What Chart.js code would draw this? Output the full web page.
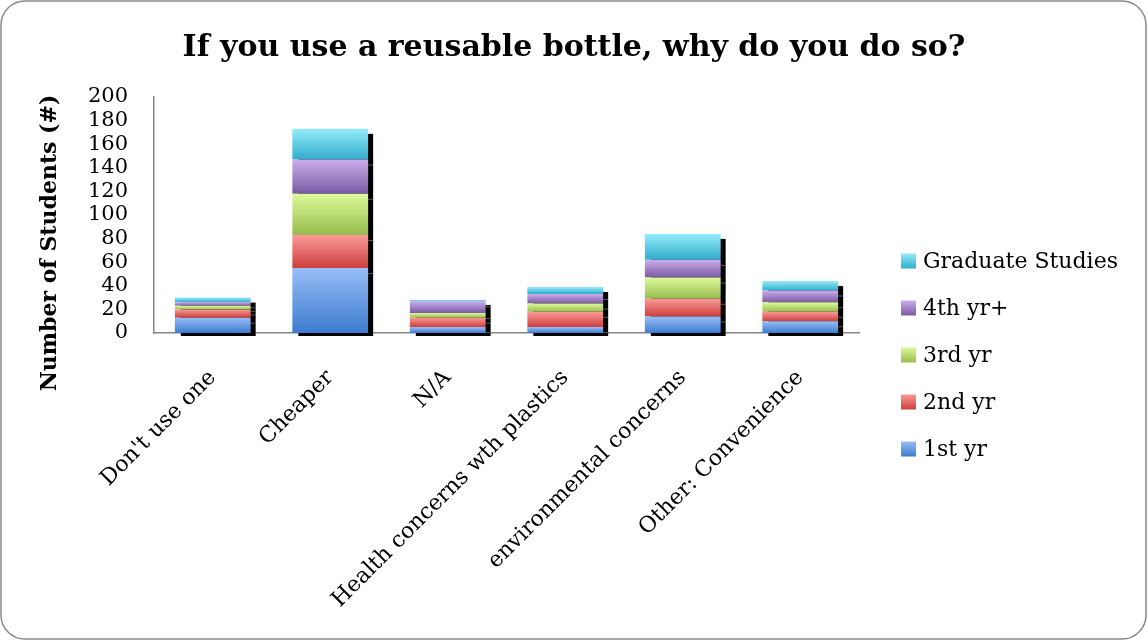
<!DOCTYPE html>
<html>
<head>
<meta charset="utf-8">
<script src="https://cdn.jsdelivr.net/npm/chart.js@4.4.1/dist/chart.umd.min.js"></script>
<style>
  html, body { margin: 0; padding: 0; background: #ffffff; }
  #wrap { width: 1148px; height: 641px; }
</style>
</head>
<body>
<div id="wrap"><canvas id="chart" width="1148" height="641"></canvas></div>
<script>
// Survey answers: reasons for using a reusable bottle, by year of study
const categories = [
  "Don't use one",
  'Cheaper',
  'N/A',
  'Health concerns wth plastics',
  'environmental concerns',
  'Other: Convenience'
];
const seriesNames = ['1st yr', '2nd yr', '3rd yr', '4th yr+', 'Graduate Studies'];
const firstYear  = [13, 55, 5, 5, 14, 10];
const secondYear = [7, 28, 8, 13, 15, 8];
const thirdYear  = [3, 35, 4, 7, 18, 8];
const fourthYear = [3, 29, 10, 8, 15, 10];
const graduate   = [4, 26, 1, 6, 22, 8];
const yTickMin = 0;
const yTickMax = 200;
const yTickStep = 20;
const chartTitle = 'If you use a reusable bottle, why do you do so?';
const yAxisTitle = 'Number of Students (#)';

// light (top) and dark (bottom) stop of each series' gradient
const seriesShades = [
  ['#98BEF7', '#3C7BCF'],
  ['#FA9A98', '#CC3F3C'],
  ['#DCFA9A', '#98BC4C'],
  ['#CBAEEC', '#7A5AA3'],
  ['#95ECFB', '#30ACCB']
];

const FONT = 'DejaVu Serif';

function stackBounds(chart, datasetIndex, dataIndex) {
  let start = 0;
  for (let d = 0; d < datasetIndex; d++) start += chart.data.datasets[d].data[dataIndex];
  return [start, start + chart.data.datasets[datasetIndex].data[dataIndex]];
}

function segmentFill(context) {
  const chart = context.chart;
  const shades = seriesShades[context.datasetIndex];
  if (!chart.chartArea || context.type !== 'data') return shades[1];
  const yScale = chart.scales.y;
  const [s, e] = stackBounds(chart, context.datasetIndex, context.dataIndex);
  const yBottom = yScale.getPixelForValue(s);
  const yTop = yScale.getPixelForValue(e);
  if (!isFinite(yBottom) || !isFinite(yTop) || yBottom === yTop) return shades[1];
  const g = chart.ctx.createLinearGradient(0, yTop, 0, yBottom);
  g.addColorStop(0, shades[0]);
  g.addColorStop(1, shades[1]);
  return g;
}

// white card with a rounded grey outline, and the heading
const cardFrame = {
  id: 'cardFrame',
  beforeDraw(chart) {
    const ctx = chart.ctx;
    const w = chart.width, h = chart.height, r = 24;
    ctx.save();
    ctx.fillStyle = '#ffffff';
    ctx.fillRect(0, 0, w, h);
    ctx.beginPath();
    ctx.roundRect(1, 1, w - 3, h - 3, r);
    ctx.strokeStyle = '#8a8a8a';
    ctx.lineWidth = 1.5;
    ctx.stroke();
    ctx.fillStyle = '#000000';
    ctx.font = 'bold 30px "' + FONT + '"';
    ctx.textAlign = 'center';
    ctx.textBaseline = 'alphabetic';
    ctx.fillText(chartTitle, w / 2, 56);
    ctx.restore();
  }
};

// dark drop shadow behind each stacked column
const columnShadow = {
  id: 'columnShadow',
  beforeDatasetsDraw(chart) {
    const ctx = chart.ctx;
    const metas = chart.getSortedVisibleDatasetMetas();
    ctx.save();
    chart.data.labels.forEach((_, i) => {
      let top = Infinity, base = -Infinity, left = 0, right = 0;
      const cuts = [];
      metas.forEach(m => {
        const el = m.data[i];
        if (!el) return;
        top = Math.min(top, el.y);
        base = Math.max(base, el.base);
        left = el.x - el.width / 2;
        right = el.x + el.width / 2;
        cuts.push(el.y);
      });
      if (!isFinite(top)) return;
      ctx.fillStyle = '#000000';
      ctx.fillRect(left + 6, top + 5, right - left - 1, base - top - 2);
      ctx.fillStyle = '#5a5a5a';
      cuts.forEach(y => {
        if (y > top + 1) ctx.fillRect(right, y + 5, 5, 1);
      });
    });
    ctx.restore();
  }
};

// rotated y-axis caption and the series key on the right
const sideTexts = {
  id: 'sideTexts',
  afterDraw(chart) {
    const ctx = chart.ctx;
    ctx.save();
    ctx.translate(50, 243);
    ctx.rotate(-Math.PI / 2);
    ctx.fillStyle = '#000000';
    ctx.font = 'bold 22px "' + FONT + '"';
    ctx.textAlign = 'center';
    ctx.textBaseline = 'middle';
    ctx.fillText(yAxisTitle, 0, 0);
    ctx.restore();

    ctx.save();
    const sets = chart.data.datasets;
    const boxX = 901, textX = 923, firstY = 261, gap = 47, box = 15;
    ctx.font = '22px "' + FONT + '"';
    ctx.textBaseline = 'middle';
    ctx.textAlign = 'left';
    for (let k = 0; k < sets.length; k++) {
      const idx = sets.length - 1 - k;
      const cy = firstY + gap * k;
      const g = ctx.createLinearGradient(0, cy - box / 2, 0, cy + box / 2);
      g.addColorStop(0, seriesShades[idx][0]);
      g.addColorStop(1, seriesShades[idx][1]);
      ctx.fillStyle = g;
      ctx.fillRect(boxX, cy - box / 2, box, box);
      ctx.fillStyle = '#000000';
      ctx.fillText(sets[idx].label, textX, cy + 1);
    }
    ctx.restore();
  }
};

const seriesValues = [firstYear, secondYear, thirdYear, fourthYear, graduate];

new Chart(document.getElementById('chart'), {
  type: 'bar',
  data: {
    labels: categories,
    datasets: seriesNames.map((name, i) => ({
      label: name,
      data: seriesValues[i],
      backgroundColor: segmentFill,
      borderWidth: 0,
      categoryPercentage: 1.0,
      barPercentage: 0.645
    }))
  },
  options: {
    responsive: false,
    animation: false,
    devicePixelRatio: 1,
    layout: { padding: { left: 0, right: 289, top: 97, bottom: 0 } },
    plugins: {
      legend: { display: false },
      tooltip: { enabled: false },
      title: { display: false }
    },
    scales: {
      x: {
        stacked: true,
        grid: { display: false },
        border: { color: '#878787', width: 1.5 },
        ticks: {
          autoSkip: false,
          minRotation: 45,
          maxRotation: 45,
          padding: 24,
          color: '#000000',
          font: { family: FONT, size: 22 }
        },
        afterFit(scale) { scale.height = 641 - 333; }
      },
      y: {
        stacked: true,
        min: yTickMin,
        max: yTickMax,
        grid: { display: false },
        border: { color: '#878787', width: 1.5 },
        ticks: {
          stepSize: yTickStep,
          autoSkip: false,
          padding: 18,
          color: '#000000',
          font: { family: FONT, size: 21 }
        },
        afterFit(scale) { scale.width = 154; }
      }
    }
  },
  plugins: [cardFrame, columnShadow, sideTexts]
});
</script>
</body>
</html>
